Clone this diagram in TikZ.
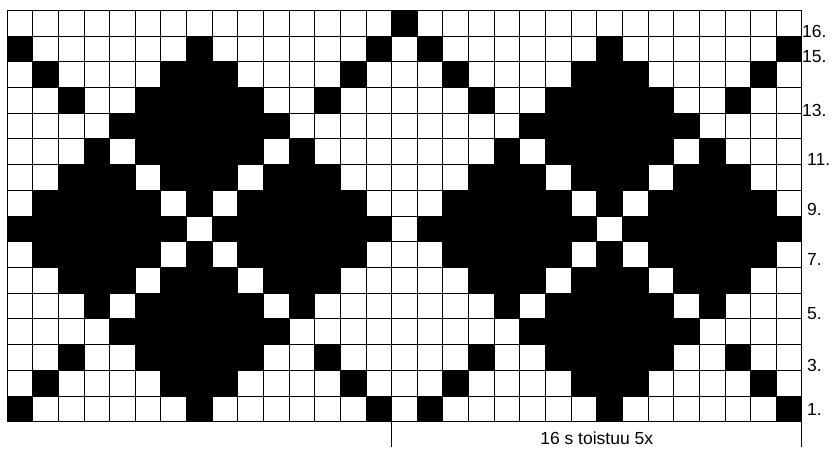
\documentclass[tikz,border=0pt]{standalone}
\usepackage{fontspec}
\setmainfont{Liberation Sans}
\begin{document}
\begin{tikzpicture}[x=1pt,y=-1pt,
  gridline/.style={draw=black, line width=0.8pt},
  stitch/.style={fill=black},
  rowlabel/.style={anchor=west, inner sep=0pt, font=\fontsize{17.5}{21}\selectfont},
  note/.style={anchor=base, inner sep=0pt, font=\fontsize{17.5}{21}\selectfont}]
\useasboundingbox (0,0) rectangle (835,448);
\def\cellw{25.64}
\def\cellh{25.71}
\def\gx{7}
\def\gy{10.3}
% black stitches, row number / columns (0 = leftmost)
\foreach \r/\cs in {
  1/{0,7,14,16,23,30},
  2/{1,6,7,8,13,17,22,23,24,29},
  3/{2,5,6,7,8,9,12,18,21,22,23,24,25,28},
  4/{4,5,6,7,8,9,10,20,21,22,23,24,25,26},
  5/{3,5,6,7,8,9,11,19,21,22,23,24,25,27},
  6/{2,3,4,6,7,8,10,11,12,18,19,20,22,23,24,26,27,28},
  7/{1,2,3,4,5,7,9,10,11,12,13,17,18,19,20,21,23,25,26,27,28,29},
  8/{0,1,2,3,4,5,6,8,9,10,11,12,13,14,16,17,18,19,20,21,22,24,25,26,27,28,29,30},
  9/{1,2,3,4,5,7,9,10,11,12,13,17,18,19,20,21,23,25,26,27,28,29},
  10/{2,3,4,6,7,8,10,11,12,18,19,20,22,23,24,26,27,28},
  11/{3,5,6,7,8,9,11,19,21,22,23,24,25,27},
  12/{4,5,6,7,8,9,10,20,21,22,23,24,25,26},
  13/{2,5,6,7,8,9,12,18,21,22,23,24,25,28},
  14/{1,6,7,8,13,17,22,23,24,29},
  15/{0,7,14,16,23,30},
  16/{15}}{
  \foreach \c in \cs {
    \fill[stitch] (\gx+\c*\cellw, \gy+16*\cellh-\r*\cellh) rectangle ++(\cellw,\cellh);
  }
}
% grid
\foreach \i in {0,...,31}
  \draw[gridline] (\gx+\i*\cellw, \gy) -- (\gx+\i*\cellw, \gy+16*\cellh);
\foreach \j in {0,...,16}
  \draw[gridline] (\gx, \gy+\j*\cellh) -- (\gx+31*\cellw, \gy+\j*\cellh);
% repeat marker
\coordinate (split) at (\gx+15*\cellw, \gy+16*\cellh);
\coordinate (gridBR) at (\gx+31*\cellw, \gy+16*\cellh);
\coordinate (splitEnd) at (\gx+15*\cellw, 447);
\coordinate (rightEnd) at (\gx+31*\cellw, 447);
\draw[gridline] (split) -- (splitEnd);
\draw[gridline] (gridBR) -- (rightEnd);
\node[note] (repeat) at (596.7,444.4) {16 s toistuu 5x};
% row labels
\node[rowlabel] (l16) at (802,31.2) {16.};
\node[rowlabel] (l15) at (802,57) {15.};
\node[rowlabel] (l13) at (802,110.3) {13.};
\node[rowlabel] (l11) at (807,159.5) {11.};
\node[rowlabel] (l9) at (807,209.7) {9.};
\node[rowlabel] (l7) at (807,259.7) {7.};
\node[rowlabel] (l5) at (807,314) {5.};
\node[rowlabel] (l3) at (807,365.8) {3.};
\node[rowlabel] (l1) at (807,409.7) {1.};
\end{tikzpicture}
\end{document}
